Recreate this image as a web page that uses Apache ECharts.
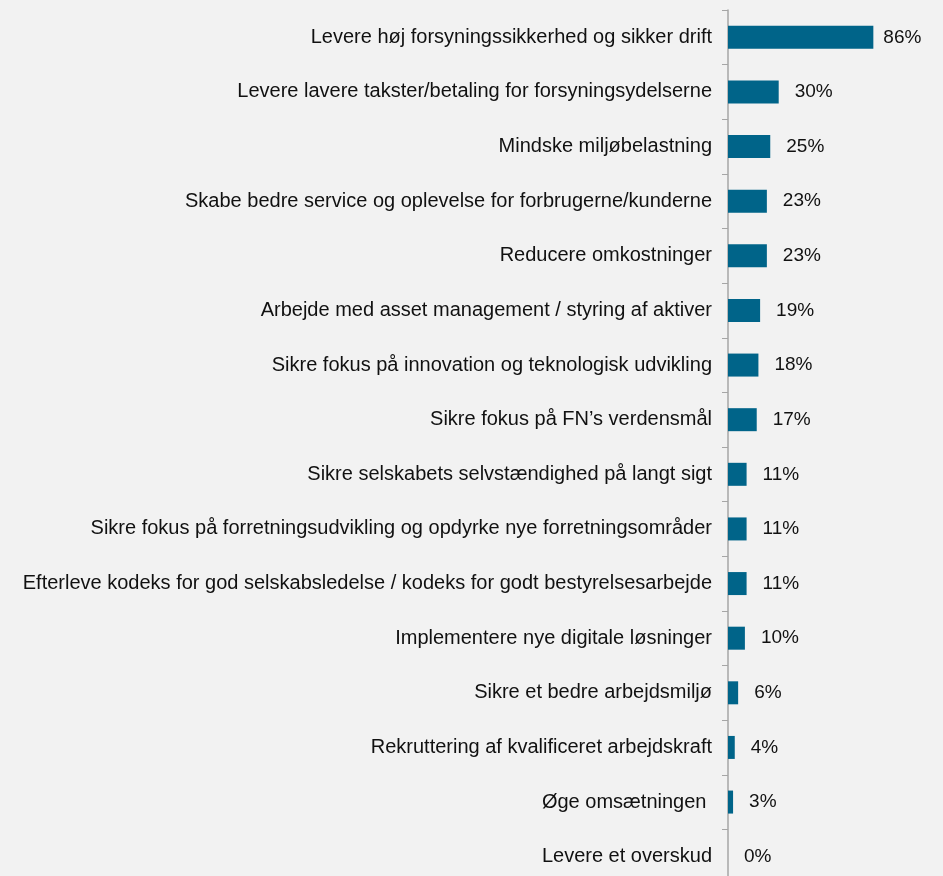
<!DOCTYPE html>
<html>
<head>
<meta charset="utf-8">
<script src="https://cdn.jsdelivr.net/npm/echarts@6/dist/echarts.min.js"></script>
<style>
  html, body { margin: 0; padding: 0; background: #f2f2f2; }
  #chart { width: 943px; height: 876px; }
</style>
</head>
<body>
<div id="chart"></div>
<script>
// categories top to bottom
var categories = [
  'Levere høj forsyningssikkerhed og sikker drift',
  'Levere lavere takster/betaling for forsyningsydelserne',
  'Mindske miljøbelastning',
  'Skabe bedre service og oplevelse for forbrugerne/kunderne',
  'Reducere omkostninger',
  'Arbejde med asset management / styring af aktiver',
  'Sikre fokus på innovation og teknologisk udvikling',
  'Sikre fokus på FN’s verdensmål',
  'Sikre selskabets selvstændighed på langt sigt',
  'Sikre fokus på forretningsudvikling og opdyrke nye forretningsområder',
  'Efterleve kodeks for god selskabsledelse / kodeks for godt bestyrelsesarbejde',
  'Implementere nye digitale løsninger',
  'Sikre et bedre arbejdsmiljø',
  'Rekruttering af kvalificeret arbejdskraft',
  'Øge omsætningen ',
  'Levere et overskud'
]
var shares = [86, 30, 25, 23, 23, 19, 18, 17, 11, 11, 11, 10, 6, 4, 3, 0]

var chart = echarts.init(document.getElementById('chart'))
var maxShare = Math.max.apply(null, shares)
var seriesData = shares.map(function(v) {
  // the longest bar has its label a bit closer (as in the original)
  if (v === maxShare) {
    return { value: v, label: { distance: 10 } }
  }
  return v
})

chart.setOption({
  backgroundColor: '#f2f2f2',
  animation: false,
  grid: {
    left: 728,
    right: 46,
    top: 10,
    height: 874,
    containLabel: false,
    outerBoundsMode: 'none'
  },
  xAxis: {
    type: 'value',
    min: 0,
    max: 100,
    show: false
  },
  yAxis: {
    type: 'category',
    inverse: true,
    data: categories,
    axisLine: { show: true, lineStyle: { color: '#a6a6a6', width: 1.5 } },
    axisTick: { show: true, length: 6, lineStyle: { color: '#a6a6a6' } },
    axisLabel: {
      margin: 16,
      color: '#111111',
      fontFamily: 'Liberation Sans, Arial, sans-serif',
      fontSize: 20
    }
  },
  series: [{
    type: 'bar',
    data: seriesData,
    barWidth: 23,
    itemStyle: { color: '#006489' },
    label: {
      show: true,
      position: 'right',
      distance: 16,
      formatter: '{c}%',
      color: '#111111',
      fontFamily: 'Liberation Sans, Arial, sans-serif',
      fontSize: 19
    }
  }]
})
</script>
</body>
</html>
